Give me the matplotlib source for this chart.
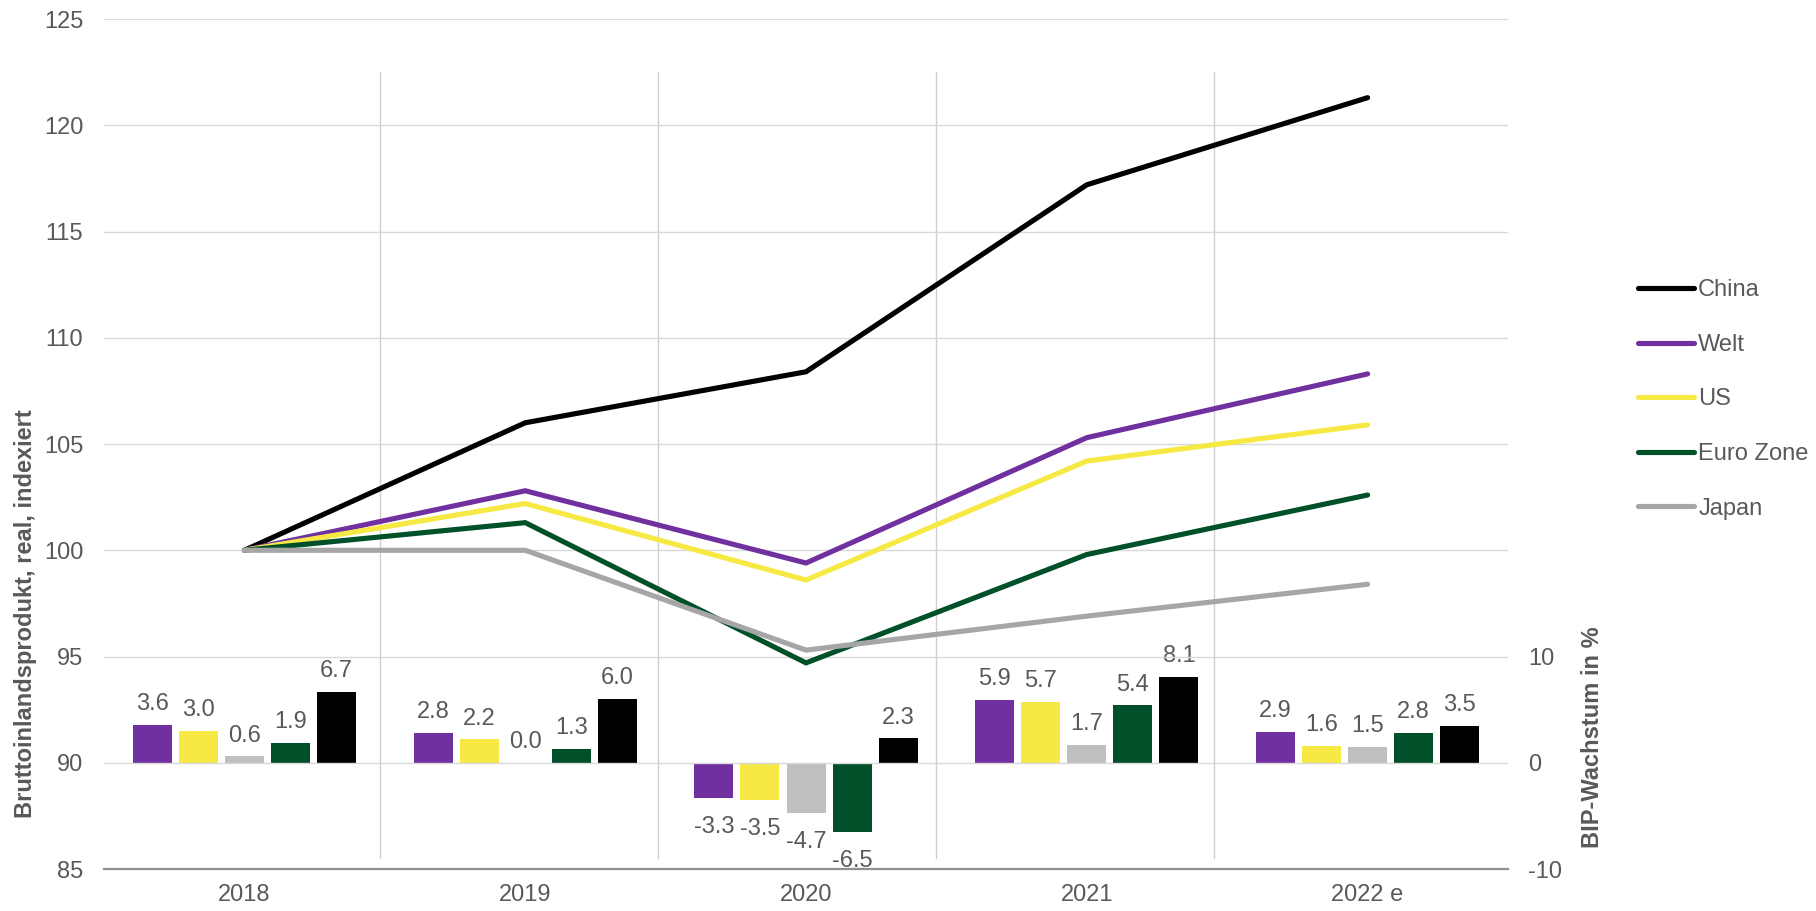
import numpy as np
import matplotlib
matplotlib.use("Agg")
import matplotlib.pyplot as plt

plt.rcParams['font.family'] = ['Liberation Sans', 'DejaVu Sans']
plt.rcParams['axes.unicode_minus'] = False

# Kategorien
years = ["2018", "2019", "2020", "2021", "2022 e"]

# BIP real, indexiert (2018 = 100)
index_china = [100.0, 106.0, 108.4, 117.2, 121.3]
index_welt = [100.0, 102.8, 99.4, 105.3, 108.3]
index_us = [100.0, 102.2, 98.6, 104.2, 105.9]
index_euro = [100.0, 101.3, 94.7, 99.8, 102.6]
index_japan = [100.0, 100.0, 95.3, 96.9, 98.4]

# BIP-Wachstum in %
growth_welt = [3.6, 2.8, -3.3, 5.9, 2.9]
growth_us = [3.0, 2.2, -3.5, 5.7, 1.6]
growth_japan = [0.6, 0.0, -4.7, 1.7, 1.5]
growth_euro = [1.9, 1.3, -6.5, 5.4, 2.8]
growth_china = [6.7, 6.0, 2.3, 8.1, 3.5]

PURPLE = "#7030A0"
YELLOW = "#F7E943"
GREEN = "#00502A"
GREY_LINE = "#A6A6A6"
GREY_BAR = "#BFBFBF"
TXT = "#595959"
FS = 17

fig = plt.figure(figsize=(18.16, 9.11), dpi=100)
ax = fig.add_axes([0.0573, 0.0461, 0.7731, 0.9330])
ax2 = ax.twinx()
ax.set_zorder(ax2.get_zorder() + 1)
ax.patch.set_visible(False)

x = np.arange(len(years))

# Balken (rechte Achse)
bar_series = [
    (growth_welt, PURPLE),
    (growth_us, YELLOW),
    (growth_japan, GREY_BAR),
    (growth_euro, GREEN),
    (growth_china, "#000000"),
]
pitch = 0.164
width = 0.139
for i, (vals, col) in enumerate(bar_series):
    offs = (i - 2) * pitch
    bars = ax2.bar(x + offs, vals, width=width, color=col, linewidth=0)
    for b, v in zip(bars, vals):
        if v >= 0:
            ax2.annotate(f"{v:.1f}", (b.get_x() + b.get_width() / 2, v),
                         xytext=(0, 7), textcoords="offset points",
                         ha="center", va="bottom", fontsize=FS, color=TXT)
        else:
            ax2.annotate(f"{v:.1f}", (b.get_x() + b.get_width() / 2, v),
                         xytext=(0, -13), textcoords="offset points",
                         ha="center", va="top", fontsize=FS, color=TXT)

ax2.set_ylim(-10, 70)
ax2.set_yticks([-10, 0, 10])
ax2.tick_params(axis="y", length=0, pad=14.5, labelsize=FS, labelcolor=TXT)
for s in ax2.spines.values():
    s.set_visible(False)

# Linien (linke Achse)
line_series = [
    ("China", index_china, "#000000"),
    ("Welt", index_welt, PURPLE),
    ("US", index_us, YELLOW),
    ("Euro Zone", index_euro, GREEN),
    ("Japan", index_japan, GREY_LINE),
]
for name, vals, col in line_series:
    ax.plot(x, vals, color=col, lw=3.7, label=name,
            solid_capstyle="round", solid_joinstyle="miter")

ax.set_xlim(-0.5, 4.5)
ax.set_ylim(85, 125)
ax.set_yticks(np.arange(85, 126, 5))
ax.set_xticks(x)
ax.set_xticklabels(years)
ax.tick_params(axis="y", length=0, pad=15, labelsize=FS, labelcolor=TXT)
ax.tick_params(axis="x", length=0, pad=11, labelsize=FS, labelcolor=TXT)
ax.yaxis.grid(True, color="#D9D9D9", lw=1.0)
ax.set_axisbelow(True)
for v in np.arange(1, 5) * 0.99 - 0.507:
    ax.axvline(v, ymin=0.013, ymax=0.9376, color="#D0D0D0", lw=1.0, zorder=0)
for side in ["top", "left", "right"]:
    ax.spines[side].set_visible(False)
ax.spines["bottom"].set_color("#8F8F8F")
ax.spines["bottom"].set_linewidth(1.6)

fig.text(0.0138, 0.326, "Bruttoinlandsprodukt, real, indexiert", rotation=90,
         ha="center", va="center", fontsize=FS, fontweight="bold", color=TXT)
fig.text(0.8767, 0.191, "BIP-Wachstum in %", rotation=90,
         ha="center", va="center", fontsize=FS, fontweight="bold", color=TXT)

leg = fig.legend(loc="upper left", bbox_to_anchor=(0.902, 0.6935), frameon=False,
                 fontsize=FS, labelcolor=TXT, handlelength=2.35,
                 handletextpad=0.2, labelspacing=1.38, borderpad=0,
                 borderaxespad=0)

fig.savefig("out.png", dpi=100)
